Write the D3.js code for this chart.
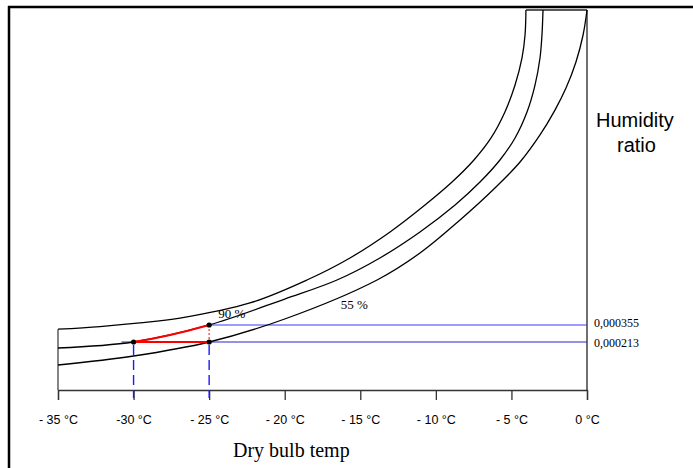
<!DOCTYPE html>
<html><head><meta charset="utf-8">
<script src="https://cdn.jsdelivr.net/npm/d3@7"></script>
<style>
html,body{margin:0;padding:0;background:#fff;}
svg{display:block;}
</style></head>
<body>
<svg id="chart" width="693" height="468"></svg>
<script>
// ---- data (dry bulb temperature °C, humidity ratio kg/kg) ----
const tickTemps = [-35, -30, -25, -20, -15, -10, -5, 0];
const tickLabels = ["- 35 °C", "-30 °C", "- 25 °C", "- 20 °C", "- 15 °C", "- 10 °C", "- 5 °C", "0 °C"];

const rh100Temps = [-35, -32.22, -29.58, -26.93, -22.30, -18.53, -15.68, -13.03, -10.72, -8.93, -7.48, -6.35, -5.43, -4.76, -4.30, -4.10, -4.04];
const rh100Ratio = [0.000320, 0.000342, 0.000372, 0.000413, 0.000539, 0.000731, 0.000915, 0.001132, 0.001357, 0.001549, 0.001733, 0.001917, 0.002134, 0.002359, 0.002585, 0.002777, 0.002986];

const rh90Temps = [-35, -30, -25, -20, -16.54, -13.70, -11.05, -8.73, -7.08, -5.76, -4.76, -3.97, -3.44, -3.11, -2.98, -2.91];
const rh90Ratio = [0.000163, 0.000213, 0.000355, 0.000572, 0.000731, 0.000915, 0.001132, 0.001357, 0.001549, 0.001733, 0.001917, 0.002134, 0.002359, 0.002585, 0.002777, 0.002986];

const rh55Temps = [-35, -30, -25, -20, -13.89, -11.05, -8.40, -6.09, -4.43, -3.11, -2.12, -1.39, -0.73, -0.26, 0];
const rh55Ratio = [0.000021, 0.000096, 0.000213, 0.000405, 0.000731, 0.000956, 0.001232, 0.001499, 0.001716, 0.001942, 0.002150, 0.002334, 0.002552, 0.002777, 0.002986];

const stateTemps = [-30, -25, -25];
const stateRatio = [0.000213, 0.000355, 0.000213];
const ratioLabels = ["0,000355", "0,000213"];
const ratioValues = [0.000355, 0.000213];
const curveLabels = ["90 %", "55 %"];

// ---- drawing ----
const svg = d3.select("#chart");
const x = d3.scaleLinear().domain([-35, 0]).range([58, 587]);
const y = d3.scaleLinear().domain([0, 0.003]).range([367.5, 8.3]);

const zip = (a, b) => a.map((v, i) => [v, b[i]]);
const line = d3.line().x(d => x(d[0])).y(d => y(d[1])).curve(d3.curveCatmullRom.alpha(0.5));

// outer frame (top and left)
svg.append("line").attr("x1", 8).attr("x2", 693).attr("y1", 7).attr("y2", 7)
  .attr("stroke", "#000").attr("stroke-width", 2.5);
svg.append("line").attr("x1", 9).attr("x2", 9).attr("y1", 6).attr("y2", 468)
  .attr("stroke", "#000").attr("stroke-width", 2.5);

// x axis
const xAxis = d3.axisBottom(x).tickValues(tickTemps)
  .tickFormat((d, i) => tickLabels[i]).tickSize(10).tickPadding(15);
const gx = svg.append("g").attr("transform", `translate(0,${390})`).call(xAxis);
gx.select(".domain").attr("stroke", "#333").attr("stroke-width", 1.3);
gx.selectAll(".tick line").attr("stroke", "#333").attr("stroke-width", 1.3);
gx.selectAll(".tick text").attr("font-family", "Liberation Sans, Arial, sans-serif")
  .attr("font-size", 12.5).attr("fill", "#000");

// vertical borders of the chart area
const yTop = y(rh100Ratio[rh100Ratio.length - 1]);
svg.append("line").attr("x1", x(0)).attr("x2", x(0)).attr("y1", yTop).attr("y2", 390)
  .attr("stroke", "#222").attr("stroke-width", 1.3);
svg.append("line").attr("x1", x(-35)).attr("x2", x(-35)).attr("y1", y(rh100Ratio[0])).attr("y2", 390)
  .attr("stroke", "#444").attr("stroke-width", 1.3);
svg.append("line").attr("x1", x(rh100Temps[rh100Temps.length - 1])).attr("x2", x(0))
  .attr("y1", yTop).attr("y2", yTop).attr("stroke", "#222").attr("stroke-width", 1.3);

// blue guide lines
svg.append("line").attr("x1", x(-25)).attr("x2", x(0))
  .attr("y1", y(ratioValues[0])).attr("y2", y(ratioValues[0]))
  .attr("stroke", "#3a3aff").attr("stroke-width", 1.2);
svg.append("line").attr("x1", x(-30.8)).attr("x2", x(0))
  .attr("y1", y(ratioValues[1])).attr("y2", y(ratioValues[1]))
  .attr("stroke", "#2626d0").attr("stroke-width", 1.2);
[-30, -25].forEach(t => {
  svg.append("line").attr("x1", x(t)).attr("x2", x(t))
    .attr("y1", y(0.000213) + 3).attr("y2", 398)
    .attr("stroke", "#1a1aff").attr("stroke-width", 1.4).attr("stroke-dasharray", "10,5");
});

// relative humidity curves
[[rh100Temps, rh100Ratio], [rh90Temps, rh90Ratio], [rh55Temps, rh55Ratio]].forEach(([t, w]) => {
  svg.append("path").attr("d", line(zip(t, w))).attr("fill", "none")
    .attr("stroke", "#000").attr("stroke-width", 1.3);
});

// red process path
svg.append("clipPath").attr("id", "seg").append("rect")
  .attr("x", x(-30)).attr("width", x(-25) - x(-30)).attr("y", 0).attr("height", 468);
svg.append("path").attr("d", line(zip(rh90Temps, rh90Ratio))).attr("fill", "none")
  .attr("clip-path", "url(#seg)").attr("stroke", "#ff0000").attr("stroke-width", 2);
svg.append("line").attr("x1", x(-30)).attr("x2", x(-25))
  .attr("y1", y(0.000213)).attr("y2", y(0.000213))
  .attr("stroke", "#ff0000").attr("stroke-width", 2);
svg.append("line").attr("x1", x(-25)).attr("x2", x(-25))
  .attr("y1", y(0.000355)).attr("y2", y(0.000213))
  .attr("stroke", "#ff5555").attr("stroke-width", 1.5).attr("stroke-dasharray", "2,2");

// state points
svg.selectAll("circle.state").data(zip(stateTemps, stateRatio)).enter().append("circle")
  .attr("cx", d => x(d[0])).attr("cy", d => y(d[1])).attr("r", 2.6).attr("fill", "#000");

// texts
const serif = "Liberation Serif, Times New Roman, serif";
const sans = "Liberation Sans, Arial, sans-serif";
svg.append("text").attr("x", x(-24.4)).attr("y", y(0.000355) - 7)
  .attr("font-family", serif).attr("font-size", 13).text(curveLabels[0]);
svg.append("text").attr("x", x(-16.3)).attr("y", 309)
  .attr("font-family", serif).attr("font-size", 13).text(curveLabels[1]);
ratioLabels.forEach((lab, i) => {
  svg.append("text").attr("x", 594).attr("y", y(ratioValues[i]) + (i === 0 ? 2 : 5))
    .attr("font-family", serif).attr("font-size", 12).text(lab);
});
svg.append("text").attr("x", 596).attr("y", 127).attr("font-family", sans)
  .attr("font-size", 20).text("Humidity");
svg.append("text").attr("x", 617).attr("y", 152).attr("font-family", sans)
  .attr("font-size", 20).text("ratio");
svg.append("text").attr("x", 233).attr("y", 457).attr("font-family", serif)
  .attr("font-size", 20).text("Dry bulb temp");
</script>
</body></html>
